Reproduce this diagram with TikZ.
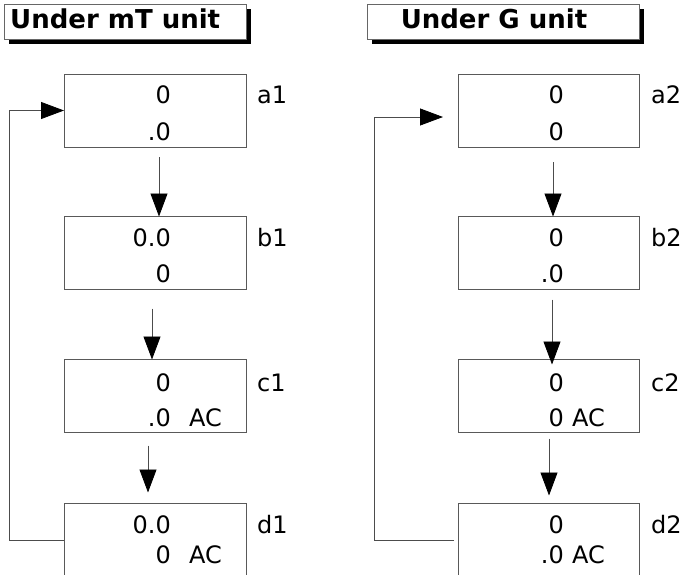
\documentclass[tikz,border=0pt]{standalone}
\usepackage{fontspec}
\setmainfont{DejaVu Sans}
\usetikzlibrary{calc,arrows.meta,shadows}

\tikzset{
	box/.style={draw=black!65, line width=0.8pt, minimum width=182pt, minimum height=73pt, inner sep=0pt, outer sep=0pt},
	titlebox/.style={draw=black!60, line width=0.8pt, fill=white, minimum height=35pt, inner sep=0pt, outer sep=0pt,
		drop shadow={shadow xshift=5pt, shadow yshift=-5pt, fill=black, opacity=1}},
	titletext/.style={font=\fontsize{26}{26}\selectfont\bfseries, inner sep=0pt},
	num/.style={font=\fontsize{24}{24}\selectfont, inner sep=0pt, anchor=east},
	unit/.style={font=\fontsize{24}{24}\selectfont, inner sep=0pt, anchor=west},
	flow/.style={draw=black!70, line width=0.8pt, -{Triangle[length=23pt,width=17pt,black]}}
}

\begin{document}
\begin{tikzpicture}[x=1pt, y=-1pt]
			%%%%% START %%%%%
			\useasboundingbox (0,0) rectangle (685,574);
			
			% titles
			\node[titlebox, minimum width=242pt] (tl) at (125,21.5) {};
			\node[titletext, anchor=west] (tlt) at (10,19) {Under mT unit};
			\node[titlebox, minimum width=272pt] (tr) at (503,21.5) {};
			\node[titletext] (trt) at (494,19) {Under G unit};
			
			% left column
			\node[box] (a1) at (155,110.5) {};
			\node[box] (b1) at (155,253) {};
			\node[box] (c1) at (155,396) {};
			\node[box] (d1) at (155,540) {};
			
			\node[num] (a1x) at (171,95) {0};
			\node[num] (a1y) at (171,132) {.0};
			\node[num] (b1x) at (171,238) {0.0};
			\node[num] (b1y) at (171,274) {0};
			\node[num] (c1x) at (171,383) {0};
			\node[num] (c1y) at (171,418) {.0};
			\node[unit] (c1u) at (189,418) {AC};
			\node[num] (d1x) at (171,525) {0.0};
			\node[num] (d1y) at (171,555) {0};
			\node[unit] (d1u) at (189,555) {AC};
			
			\node[unit] (a1l) at (257,95) {a1};
			\node[unit] (b1l) at (257,238) {b1};
			\node[unit] (c1l) at (257,383) {c1};
			\node[unit] (d1l) at (257,525) {d1};
			
			\draw[flow] ([xshift=4pt,yshift=-10pt]a1.south) -- ([xshift=4pt]b1.north);
			\draw[flow] ([xshift=-3pt,yshift=-19pt]b1.south) -- ([xshift=-3pt]c1.north);
			\draw[flow] ([xshift=-7pt,yshift=-13pt]c1.south) -- ([xshift=-7pt,yshift=11pt]d1.north);
			
			\coordinate (lft) at (9,0);
			\draw[flow] (d1.west) -- (d1.west -| lft) |- (a1.west);
			
			% right column
			\node[box, minimum width=181pt] (a2) at (548.5,110.5) {};
			\node[box, minimum width=181pt] (b2) at (548.5,253) {};
			\node[box, minimum width=181pt] (c2) at (548.5,396) {};
			\node[box, minimum width=181pt] (d2) at (548.5,540) {};
			
			\node[num] (a2x) at (564,95) {0};
			\node[num] (a2y) at (564,132) {0};
			\node[num] (b2x) at (564,238) {0};
			\node[num] (b2y) at (564,274) {.0};
			\node[num] (c2x) at (564,383) {0};
			\node[num] (c2y) at (564,418) {0};
			\node[unit] (c2u) at (572,418) {AC};
			\node[num] (d2x) at (564,525) {0};
			\node[num] (d2y) at (564,555) {.0};
			\node[unit] (d2u) at (572,555) {AC};
			
			\node[unit] (a2l) at (651,95) {a2};
			\node[unit] (b2l) at (651,238) {b2};
			\node[unit] (c2l) at (651,383) {c2};
			\node[unit] (d2l) at (651,525) {d2};
			
			\draw[flow] ([xshift=4.5pt,yshift=-15pt]a2.south) -- ([xshift=4.5pt]b2.north);
			\draw[flow] ([xshift=3.5pt,yshift=-10pt]b2.south) -- ([xshift=3.5pt,yshift=-5pt]c2.north);
			\draw[flow] ([xshift=0.5pt,yshift=-6pt]c2.south) -- ([xshift=0.5pt,yshift=8pt]d2.north);
			
			\coordinate (rgt) at (378,0);
			\draw[flow] ([xshift=-4pt]d2.west) -- ([xshift=-4pt]d2.west -| rgt) |- ([xshift=-15pt,yshift=-6.5pt]a2.west);
			%%%%% END %%%%%
\end{tikzpicture}
\end{document}
